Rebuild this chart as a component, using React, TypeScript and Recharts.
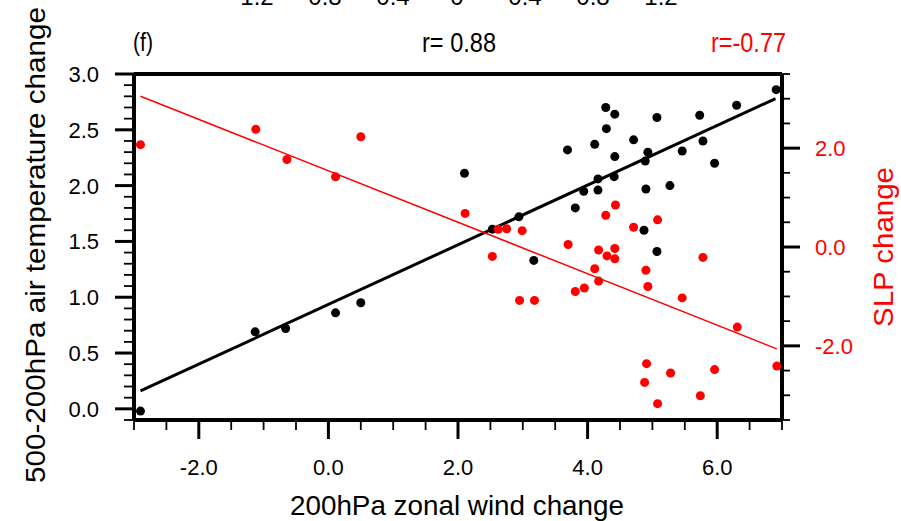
import React from "react";
import {
  Customized,
  ReferenceLine,
  Scatter,
  ScatterChart,
  XAxis,
  YAxis,
} from "recharts";

// 200hPa zonal wind change vs 500-200hPa air temperature change (black, left axis)
const windT = [
  -2.9, -1.13, -0.66, 0.11, 0.5, 2.1, 2.53, 2.94, 3.17, 3.69, 3.81, 3.94, 4.11,
  4.16, 4.16, 4.28, 4.29, 4.41, 4.42, 4.42, 4.71, 4.87, 4.89, 4.9, 4.93, 5.07,
  5.07, 5.27, 5.46, 5.73, 5.78, 5.96, 6.3, 6.91,
];
const tempChange = [
  -0.02, 0.69, 0.72, 0.86, 0.95, 2.11, 1.61, 1.72, 1.33, 2.32, 1.8, 1.95, 2.37,
  2.06, 1.96, 2.7, 2.51, 2.08, 2.64, 2.26, 2.41, 1.6, 2.22, 1.97, 2.3, 2.61,
  1.41, 2.0, 2.31, 2.63, 2.4, 2.2, 2.72, 2.86,
];

// 200hPa zonal wind change vs SLP change (red, right axis)
const windS = [
  -2.9, -1.12, -0.64, 0.11, 0.5, 2.11, 2.53, 2.62, 2.75, 2.95, 2.99, 3.18, 3.7,
  3.81, 3.95, 4.11, 4.17, 4.17, 4.28, 4.3, 4.42, 4.42, 4.43, 4.71, 4.88, 4.9,
  4.91, 4.93, 5.08, 5.08, 5.28, 5.46, 5.74, 5.78, 5.96, 6.31, 6.92,
];
const slpChange = [
  2.07, 2.38, 1.77, 1.42, 2.23, 0.68, -0.19, 0.36, 0.37, -1.08, 0.33, -1.08,
  0.05, -0.9, -0.83, -0.44, -0.06, -0.69, 0.64, -0.18, -0.03, -0.24, 0.85, 0.4,
  -2.74, -0.47, -2.36, -0.8, 0.55, -3.17, -2.55, -1.03, -3.01, -0.21, -2.48,
  -1.62, -2.41,
];

// regression line end points
const fitT = [
  { x: -2.9, y: 0.16 },
  { x: 6.9, y: 2.78 },
];
const fitS = [
  { x: -2.9, y: 3.05 },
  { x: 6.92, y: -2.06 },
];

const xTicks = [
  -3, -2.5, -2, -1.5, -1, -0.5, 0, 0.5, 1, 1.5, 2, 2.5, 3, 3.5, 4, 4.5, 5, 5.5,
  6, 6.5, 7,
];
const xLabels = [-2, 0, 2, 4, 6];
const yTicksL = [
  -0.1, 0, 0.1, 0.2, 0.3, 0.4, 0.5, 0.6, 0.7, 0.8, 0.9, 1, 1.1, 1.2, 1.3, 1.4,
  1.5, 1.6, 1.7, 1.8, 1.9, 2, 2.1, 2.2, 2.3, 2.4, 2.5, 2.6, 2.7, 2.8, 2.9, 3,
];
const yLabelsL = [0, 0.5, 1, 1.5, 2, 2.5, 3];
const yTicksR = [-3.5, -3, -2.5, -2, -1.5, -1, -0.5, 0, 0.5, 1, 1.5, 2, 2.5, 3, 3.5];
const yLabelsR = [-2, 0, 2];
const colorbarLabels = ["-1.2", "-0.8", "-0.4", "0", "0.4", "0.8", "1.2"];

const FONT = "'Liberation Sans', Arial, Helvetica, sans-serif";
const RED = "#ff0000";
const AXIS = { stroke: "#000", strokeWidth: 4 };

const tempPoints = windT.map((x, i) => ({ x, y: tempChange[i] }));
const slpPoints = windS.map((x, i) => ({ x, y: slpChange[i] }));

const isIn = (list: number[], v: number) => list.some((m) => Math.abs(m - v) < 1e-6);

const XTick = (props: any) => {
  const { x, y, payload } = props;
  const major = isIn(xLabels, payload.value);
  return (
    <g>
      <line x1={x} y1={y} x2={x} y2={y + (major ? 19 : 10)} stroke="#000" strokeWidth={major ? 3 : 1.8} />
      {major && (
        <text x={x} y={y + 55} textAnchor="middle" fontSize={22} fontFamily={FONT} fill="#000">
          {payload.value.toFixed(1)}
        </text>
      )}
    </g>
  );
};

const LeftTick = (props: any) => {
  const { x, y, payload } = props;
  const major = isIn(yLabelsL, payload.value);
  return (
    <g>
      <line x1={x} y1={y} x2={x - (major ? 19 : 10)} y2={y} stroke="#000" strokeWidth={major ? 3 : 1.8} />
      {major && (
        <text x={x - 35} y={y + 8} textAnchor="end" fontSize={22} fontFamily={FONT} fill="#000">
          {payload.value.toFixed(1)}
        </text>
      )}
    </g>
  );
};

const RightTick = (props: any) => {
  const { x, y, payload } = props;
  const major = isIn(yLabelsR, payload.value);
  return (
    <g>
      <line x1={x} y1={y} x2={x + (major ? 18 : 8)} y2={y} stroke="#000" strokeWidth={major ? 3 : 1.8} />
      {major && (
        <text x={x + 33} y={y + 8} textAnchor="start" fontSize={22} fontFamily={FONT} fill={RED}>
          {payload.value.toFixed(1)}
        </text>
      )}
    </g>
  );
};

const Dot = (color: string) => (p: any) => <circle cx={p.cx} cy={p.cy} r={4.5} fill={color} />;

// free text: panel letter, correlations, titles and the clipped colorbar labels above
const FreeText = () => (
  <g fontFamily={FONT}>
    {colorbarLabels.map((t, i) => (
      <text key={t + i} x={253 + i * 68} y={5} textAnchor="middle" fontSize={24} fill="#000">
        {t}
      </text>
    ))}
    <text x={133} y={51} fontSize={26} fill="#000" textLength={20} lengthAdjust="spacingAndGlyphs">
      (f)
    </text>
    <text x={422} y={52} fontSize={27} fill="#000" textLength={74} lengthAdjust="spacingAndGlyphs">
      r= 0.88
    </text>
    <text x={711} y={52} fontSize={27} fill={RED} textLength={75} lengthAdjust="spacingAndGlyphs">
      r=-0.77
    </text>
    <text x={457} y={515} textAnchor="middle" fontSize={28} fill="#000" textLength={334} lengthAdjust="spacingAndGlyphs">
      200hPa zonal wind change
    </text>
    <text
      x={0}
      y={0}
      transform="translate(45,245) rotate(-90)"
      textAnchor="middle"
      fontSize={28}
      fill="#000"
      textLength={476}
      lengthAdjust="spacingAndGlyphs"
    >
      500-200hPa air temperature change
    </text>
    <text
      x={0}
      y={0}
      transform="translate(893,247) rotate(-90)"
      textAnchor="middle"
      fontSize={28}
      fill={RED}
      textLength={160}
      lengthAdjust="spacingAndGlyphs"
    >
      SLP change
    </text>
  </g>
);

export default function App() {
  return (
    <div style={{ position: "absolute", left: 0, top: 0, width: 901, height: 521, background: "#fff" }}>
      <ScatterChart width={901} height={521} margin={{ top: 73, right: 0, bottom: 0, left: 0 }}>
        <XAxis
          xAxisId="b"
          type="number"
          dataKey="x"
          domain={[-3, 7]}
          ticks={xTicks}
          interval={0}
          height={101}
          axisLine={AXIS}
          tickLine={false}
          tickSize={0}
          tickMargin={0}
          tick={<XTick />}
          allowDataOverflow
        />
        <XAxis
          xAxisId="t"
          type="number"
          dataKey="x"
          orientation="top"
          domain={[-3, 7]}
          height={1}
          tick={false}
          tickLine={false}
          axisLine={AXIS}
          allowDataOverflow
        />
        <YAxis
          yAxisId="L"
          type="number"
          dataKey="y"
          domain={[-0.1, 3]}
          ticks={yTicksL}
          interval={0}
          width={134}
          axisLine={AXIS}
          tickLine={false}
          tickSize={0}
          tickMargin={0}
          tick={<LeftTick />}
          allowDataOverflow
        />
        <YAxis
          yAxisId="R"
          type="number"
          dataKey="y"
          orientation="right"
          domain={[-3.5, 3.5]}
          ticks={yTicksR}
          interval={0}
          width={119}
          axisLine={AXIS}
          tickLine={false}
          tickSize={0}
          tickMargin={0}
          tick={<RightTick />}
          allowDataOverflow
        />
        <ReferenceLine
          xAxisId="b"
          yAxisId="L"
          segment={fitT}
          stroke="#000"
          strokeWidth={3}
          ifOverflow="visible"
        />
        <ReferenceLine
          xAxisId="b"
          yAxisId="R"
          segment={fitS}
          stroke={RED}
          strokeWidth={1.5}
          ifOverflow="visible"
        />
        <Scatter
          xAxisId="b"
          yAxisId="L"
          data={tempPoints}
          fill="#000"
          shape={Dot("#000")}
          isAnimationActive={false}
        />
        <Scatter
          xAxisId="b"
          yAxisId="R"
          data={slpPoints}
          fill={RED}
          shape={Dot(RED)}
          isAnimationActive={false}
        />
        <Customized component={<FreeText />} />
      </ScatterChart>
    </div>
  );
}
